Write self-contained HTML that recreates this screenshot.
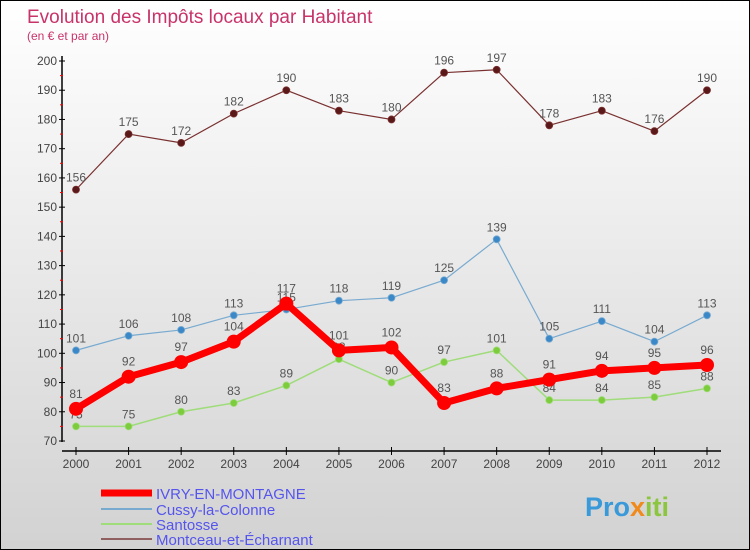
<!DOCTYPE html>
<html><head><meta charset="utf-8"><style>
body{margin:0;}
#c{width:750px;height:550px;position:relative;overflow:hidden;border:1px solid #000;box-sizing:border-box;background:linear-gradient(#fff,#d2d2d2);font-family:"Liberation Sans",sans-serif;}
</style></head><body>
<div id="c">
<svg id="s" width="750" height="550" style="position:absolute;left:0;top:0">
<text x="26" y="22" font-size="19" fill="#c8336a">Evolution des Impôts locaux par Habitant</text>
<text x="26" y="39" font-size="12" fill="#c8336a">(en € et par an)</text>
<g id="axes"></g><g id="series"></g><g id="legend"></g>
<text x="584" y="515" font-size="27" font-weight="bold" fill="#3a9ad9">Pro<tspan fill="#f08a1c">x</tspan><tspan fill="#8cc63f">iti</tspan></text>
</svg>
</div>
<script>
const years=[2000,2001,2002,2003,2004,2005,2006,2007,2008,2009,2010,2011,2012];
const ivry=[81,92,97,104,117,101,102,83,88,91,94,95,96];
const cussy=[101,106,108,113,115,118,119,125,139,105,111,104,113];
const santosse=[75,75,80,83,89,98,90,97,101,84,84,85,88];
const montceau=[156,175,172,182,190,183,180,196,197,178,183,176,190];
const yTicks=[70,80,90,100,110,120,130,140,150,160,170,180,190,200];
const NS="http://www.w3.org/2000/svg";
const x=i=>75+i*(706-75)/12;
const y=v=>440-(v-70)*(380/130);
function mk(p,t,a){const e=document.createElementNS(NS,t);for(const k in a)e.setAttribute(k,a[k]);p.appendChild(e);return e;}
const ax=document.getElementById('axes');
let l=mk(ax,'line',{x1:61,y1:55,x2:61,y2:441,stroke:'#000','stroke-width':1.5});


l=mk(ax,'line',{x1:61,y1:450,x2:720,y2:450,stroke:'#000','stroke-width':1.5});


yTicks.forEach((v,i)=>{
 mk(ax,'line',{x1:58,x2:64,y1:y(v),y2:y(v),stroke:'#000'});
 if(i<yTicks.length-1)mk(ax,'line',{x1:59,x2:62,y1:y(v+5),y2:y(v+5),stroke:'#f00'});
 const t=mk(ax,'text',{x:56,y:y(v)+4,'text-anchor':'end','font-size':12,fill:'#444'});
 t.textContent=v;
 
 
});
years.forEach((yr,i)=>{
 mk(ax,'line',{x1:x(i),x2:x(i),y1:446,y2:454,stroke:'#000'});
 const t=mk(ax,'text',{x:x(i),y:467,'text-anchor':'middle','font-size':12,fill:'#444'});
 t.textContent=yr;
 
 
});
const sg=document.getElementById('series');
function series(name,data,color,dot,w,r,lblOff){
 const g=mk(sg,'g',{});
 
 
 mk(g,'polyline',{points:data.map((v,i)=>x(i)+','+y(v)).join(' '),fill:'none',stroke:color,'stroke-width':w,'stroke-linejoin':'round'});
 data.forEach((v,i)=>{
  const c=mk(g,'circle',{cx:x(i),cy:y(v),r:r,fill:dot,stroke:color==dot?'none':color,'stroke-width':0.8});
  
  
  const t=mk(g,'text',{x:x(i),y:y(v)-lblOff,'text-anchor':'middle','font-size':12,fill:'#555'});
  t.textContent=v;
  
  
 });
}
series('santosse',santosse,'#9fdc7a','#7ccc3c',1.5,3.5,8);
series('cussy',cussy,'#78aad0','#3a88c8',1.2,3.5,8);
series('montceau',montceau,'#7a3030','#5a1818',1.2,3.5,8);
series('ivry',ivry,'#f00','#f00',7,7,11);
const lg=document.getElementById('legend');
[['IVRY-EN-MONTAGNE','#f00',7,492],['Cussy-la-Colonne','#78aad0',2,508],['Santosse','#9fdc7a',2,523],['Montceau-et-Écharnant','#906060',2,538]].forEach(d=>{
 const g=mk(lg,'g',{});
 
 
 mk(g,'line',{x1:100,x2:151,y1:d[3],y2:d[3],stroke:d[1],'stroke-width':d[2]});
 const t=mk(g,'text',{x:155,y:d[3]+6,'font-size':15,fill:'#5555ee'});
 t.textContent=d[0];
});
</script>
</body></html>
